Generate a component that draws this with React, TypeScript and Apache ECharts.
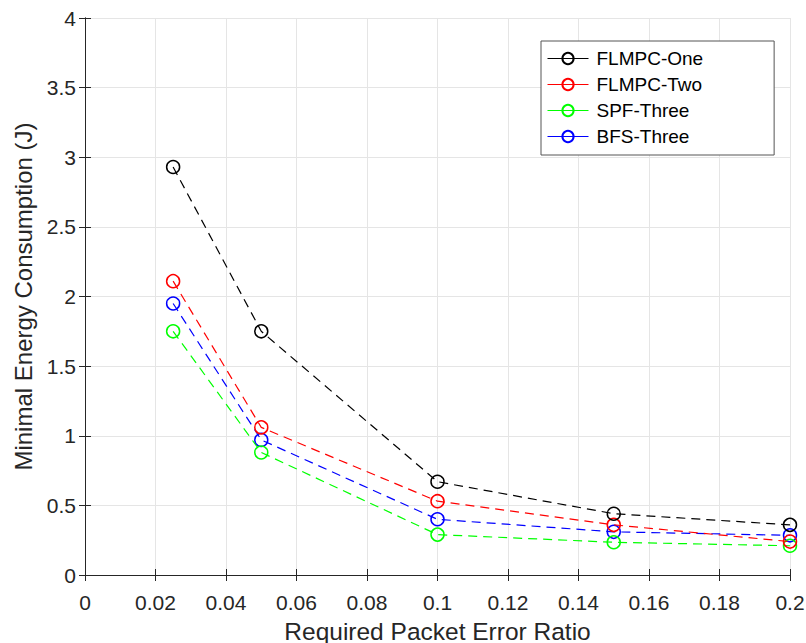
import React, { useEffect, useRef } from "react";
import * as echarts from "echarts";

const xValues = [0.025, 0.05, 0.1, 0.15, 0.2];
const flmpcOne = [2.93, 1.75, 0.67, 0.44, 0.36];
const flmpcTwo = [2.11, 1.06, 0.53, 0.36, 0.24];
const spfThree = [1.75, 0.88, 0.29, 0.235, 0.21];
const bfsThree = [1.95, 0.97, 0.4, 0.31, 0.285];
const seriesNames = ["FLMPC-One", "FLMPC-Two", "SPF-Three", "BFS-Three"];
const seriesColors = ["#000000", "#ff0000", "#00ff00", "#0000ff"];

const FONT = "'Liberation Sans', Arial, sans-serif";

function fmt(v: number): string {
  return String(parseFloat(v.toFixed(4)));
}

export default function App() {
  const ref = useRef<HTMLDivElement>(null);
  useEffect(() => {
    if (!ref.current) return;
    const chart = echarts.init(ref.current, undefined, { renderer: "svg" });
    const datasets = [flmpcOne, flmpcTwo, spfThree, bfsThree];
    const gridColor = "#e5e5e5";
    const axisColor = "#262626";
    const baseAxis = {
      axisLine: { show: true, lineStyle: { color: axisColor, width: 1 } },
      axisTick: { show: true, inside: true, length: 6, lineStyle: { color: axisColor } },
    };
    chart.setOption({
      animation: false,
      backgroundColor: "#ffffff",
      textStyle: { fontFamily: FONT },
      grid: { left: 85, top: 18, right: 16, bottom: 68, containLabel: false, outerBoundsMode: "none" },
      legend: {
        orient: "vertical",
        left: 541,
        top: 41,
        padding: [8, 71, 9, 6],
        itemWidth: 41,
        itemHeight: 14,
        itemGap: 7,
        backgroundColor: "#ffffff",
        borderColor: "#555555",
        borderWidth: 1,
        borderRadius: 0,
        lineStyle: { type: "solid", width: 1 },
        textStyle: { fontSize: 19, color: "#000", fontFamily: FONT, padding: [0, 0, 0, 3] },
        data: seriesNames,
      },
      xAxis: [
        {
          type: "value",
          min: 0,
          max: 0.2,
          interval: 0.02,
          position: "bottom",
          name: "Required Packet Error Ratio",
          nameLocation: "middle",
          nameGap: 44,
          nameTextStyle: { fontSize: 24.5, color: "#262626", fontFamily: FONT },
          ...baseAxis,
          axisLabel: { fontSize: 21, color: "#262626", margin: 17, formatter: (v: number) => fmt(v) },
          splitLine: { show: true, lineStyle: { color: gridColor, width: 1 } },
        },
        {
          type: "value",
          min: 0,
          max: 0.2,
          interval: 0.02,
          position: "top",
          ...baseAxis,
          axisLabel: { show: false },
          splitLine: { show: false },
        },
      ],
      yAxis: [
        {
          type: "value",
          min: 0,
          max: 4,
          interval: 0.5,
          position: "left",
          name: "Minimal Energy Consumption (J)",
          nameLocation: "middle",
          nameGap: 46,
          nameTextStyle: { fontSize: 24, color: "#262626", fontFamily: FONT },
          ...baseAxis,
          axisLabel: { fontSize: 21, color: "#262626", margin: 9, formatter: (v: number) => fmt(v) },
          splitLine: { show: true, lineStyle: { color: gridColor, width: 1 } },
        },
        {
          type: "value",
          min: 0,
          max: 4,
          interval: 0.5,
          position: "right",
          ...baseAxis,
          axisLabel: { show: false },
          splitLine: { show: false },
        },
      ],
      series: seriesNames.map((name, i) => ({
        name,
        type: "line",
        xAxisIndex: 0,
        yAxisIndex: 0,
        data: xValues.map((x, j) => [x, datasets[i][j]]),
        symbol: "circle",
        symbolSize: 13,
        showSymbol: true,
        color: seriesColors[i],
        itemStyle: { color: "rgba(255,255,255,0)", borderColor: seriesColors[i], borderWidth: 1.5 },
        lineStyle: { color: seriesColors[i], width: 1.2, type: [9, 6] },
        z: 10 - i,
      })),
    });
    return () => chart.dispose();
  }, []);
  return <div ref={ref} style={{ position: "absolute", left: 0, top: 0, width: 806, height: 643 }} />;
}
